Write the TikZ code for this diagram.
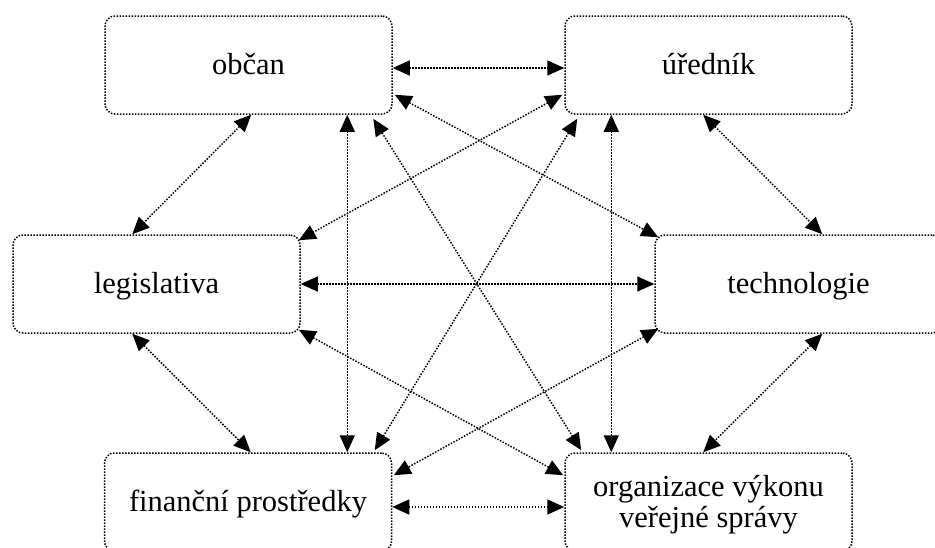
\documentclass[tikz,border=0pt]{standalone}
\usepackage{fontspec}
\setmainfont{Liberation Serif}
\usetikzlibrary{arrows.meta}
\begin{document}
\begin{tikzpicture}[x=1pt,y=-1pt,
  dotline/.style={line width=1.5pt, dash pattern=on 1.5pt off 1.5pt},
  box/.style={dotline, draw, rounded corners=10pt, minimum width=287pt, minimum height=98pt, inner sep=0pt, font=\fontsize{30.5}{31}\selectfont},
  oneline/.style={text height=19pt, text depth=0pt},
  link/.style={dotline, {Triangle[length=17pt,width=15pt]}-{Triangle[length=17pt,width=15pt]}}
]
\useasboundingbox (0,0) rectangle (935,547);
\clip (0,0) rectangle (935,547);

\node[box,oneline] (obcan)   at (248.5,65)  {občan};
\node[box,oneline] (uradnik) at (708.5,65)  {úředník};
\node[box,oneline] (legis)   at (156.5,284) {legislativa};
\node[box,oneline] (tech)    at (798.5,284) {technologie};
\node[box,oneline] (fin)     at (248,502)   {finanční prostředky};
\node[box] (org) at (708.5,502) {\raisebox{-4pt}[\height][\depth]{\begin{tabular}{@{}c@{}}organizace výkonu\\veřejné správy\end{tabular}}};

% horizontals
\draw[link] ([yshift=-3pt]obcan.east) -- ([yshift=-3pt]uradnik.west);
\draw[link] (legis.east) -- (tech.west);
\draw[link] ([yshift=-5pt]fin.east) -- ([yshift=-5pt]org.west);
% verticals
\draw[link] ([xshift=243pt]obcan.south west) -- ([xshift=243pt]obcan.south west |- fin.north);
\draw[link] ([xshift=47pt]uradnik.south west) -- ([xshift=47pt]uradnik.south west |- org.north);
% short diagonals
\draw[link] ([xshift=147pt]obcan.south west) -- ([xshift=120pt]legis.north west);
\draw[link] ([xshift=139pt]uradnik.south west) -- ([xshift=168pt]tech.north west);
\draw[link] ([xshift=120pt]legis.south west) -- ([xshift=147pt]fin.north west);
\draw[link] ([xshift=168pt]tech.south west) -- ([xshift=139pt]org.north west);
% long diagonals
\draw[link] ([xshift=2pt,yshift=20pt]obcan.south east) -- ([xshift=4pt,yshift=-3pt]tech.north west);
\draw[link] ([xshift=-2pt,yshift=20pt]uradnik.south west) -- ([xshift=-2pt,yshift=-6pt]legis.north east);
\draw[link] ([xshift=269pt,yshift=-4pt]obcan.south west) -- ([xshift=17pt,yshift=2pt]org.north west);
\draw[link] ([xshift=13pt,yshift=-4pt]uradnik.south west) -- ([xshift=-17.5pt,yshift=2pt]fin.north east);
\draw[link] ([xshift=-2pt,yshift=4pt]legis.south east) -- ([xshift=-1pt,yshift=-23pt]org.north west);
\draw[link] ([xshift=4pt,yshift=5pt]tech.south west) -- ([xshift=1.5pt,yshift=-23pt]fin.north east);
\end{tikzpicture}
\end{document}
